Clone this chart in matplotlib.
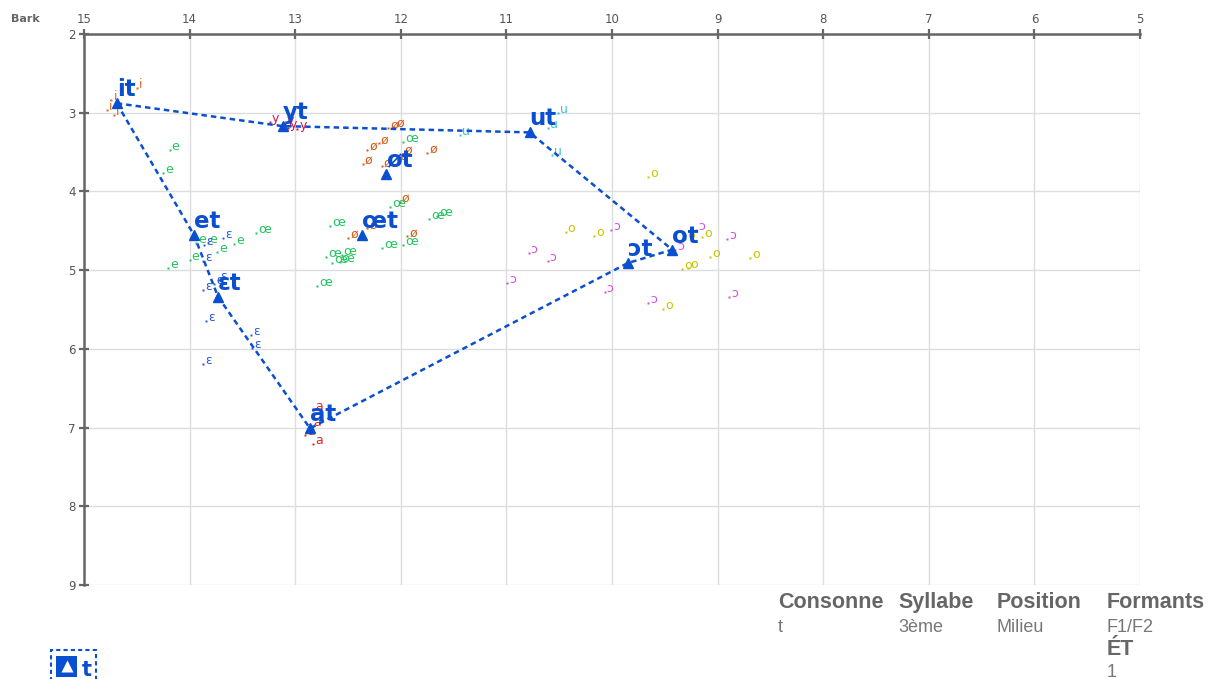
import matplotlib
matplotlib.use("Agg")
import matplotlib.pyplot as plt
from matplotlib.patches import Rectangle
from matplotlib.lines import Line2D

# ---- data (Bark: F2 on x, F1 on y) ----
token_symbols = ["i", "y", "e", "ɛ", "a", "ø", "œ", "u", "o", "ɔ"]
token_colors = ["#e06a24", "#d3144a", "#22c55e", "#2b5bd6", "#e2231f",
                "#d35a12", "#22c55e", "#3cc3cf", "#c9c300", "#d54fd8"]

i_f2 = [14.78, 14.74, 14.72, 14.50]
i_f1 = [2.97, 2.84, 3.03, 2.69]
y_f2 = [13.24, 13.10, 13.07, 12.98]
y_f1 = [3.12, 3.14, 3.19, 3.21]
e_f2 = [14.19, 14.25, 13.94, 13.83, 13.74, 13.58, 14.00, 14.20]
e_f1 = [3.47, 3.77, 4.66, 4.66, 4.77, 4.67, 4.87, 4.97]
eps_f2 = [13.86, 13.68, 13.87, 13.73, 13.77, 13.87, 13.84, 13.42, 13.41, 13.87]
eps_f1 = [4.68, 4.59, 4.88, 5.13, 5.18, 5.25, 5.65, 5.82, 5.99, 6.19]
a_f2 = [12.83, 12.91, 12.83, 12.85]
a_f1 = [6.78, 7.10, 7.21, 6.98]
oslash_f2 = [12.12, 12.06, 12.21, 12.32, 11.98, 12.03, 12.36, 12.18, 11.75,
             12.01, 12.50, 11.94, 12.32]
oslash_f1 = [3.20, 3.18, 3.39, 3.47, 3.52, 3.60, 3.65, 3.68, 3.51,
             4.13, 4.59, 4.57, 4.47]
oe_f2 = [11.98, 12.10, 11.73, 11.66, 12.18, 11.98, 12.67, 12.71, 12.56,
         12.65, 12.58, 12.79, 13.37]
oe_f1 = [3.37, 4.20, 4.35, 4.31, 4.72, 4.68, 4.44, 4.83, 4.81,
         4.91, 4.90, 5.20, 4.53]
u_f2 = [11.44, 10.51, 10.61, 10.57]
u_f1 = [3.28, 3.00, 3.19, 3.54]
o_f2 = [9.66, 10.44, 10.17, 9.31, 9.15, 9.07, 8.69, 9.34, 9.28, 9.52]
o_f1 = [3.82, 4.52, 4.57, 4.60, 4.58, 4.83, 4.85, 4.99, 4.97, 5.49]
openo_f2 = [10.01, 9.20, 8.91, 10.79, 10.61, 9.40, 10.99, 10.07, 9.66, 8.89]
openo_f1 = [4.49, 4.49, 4.60, 4.78, 4.88, 4.74, 5.16, 5.28, 5.42, 5.34]

token_f2 = [i_f2, y_f2, e_f2, eps_f2, a_f2, oslash_f2, oe_f2, u_f2, o_f2, openo_f2]
token_f1 = [i_f1, y_f1, e_f1, eps_f1, a_f1, oslash_f1, oe_f1, u_f1, o_f1, openo_f1]

mean_labels = ["it", "yt", "ut", "ot", "ɔt", "at", "ɛt", "et", "øt", "œt"]
mean_f2 = [14.69, 13.12, 10.78, 9.43, 9.85, 12.86, 13.73, 13.96, 12.14, 12.37]
mean_f1 = [2.88, 3.17, 3.25, 4.74, 4.91, 7.01, 5.34, 4.55, 3.78, 4.55]
# vowel-space outline: it -> yt -> ut -> ot -> ɔt -> at -> ɛt -> et -> it
outline_order = [0, 1, 2, 3, 4, 5, 6, 7, 0]

x_ticks = [15, 14, 13, 12, 11, 10, 9, 8, 7, 6, 5]
y_ticks = [2, 3, 4, 5, 6, 7, 8, 9]

table_headers = ["Consonne", "Syllabe", "Position", "Formants"]
table_values = ["t", "3ème", "Milieu", "F1/F2"]
extra_header = "ÉT"
extra_value = "1"
legend_label = "t"

BLUE = "#0a4fcf"
AXIS_GREY = "#666666"
W, H = 1208, 679


def fx(px):
    return px / W


def fy(py):
    return 1 - py / H


fig = plt.figure(figsize=(W / 100, H / 100), dpi=100)
ax = fig.add_axes([fx(84), fy(585), (1140 - 84) / W, (585 - 34) / H])

ax.set_xlim(15, 5)
ax.set_ylim(9, 2)
ax.xaxis.tick_top()
ax.set_xticks(x_ticks)
ax.set_yticks(y_ticks)
ax.grid(True, color="#dddddd", lw=1)
ax.set_axisbelow(True)
for side in ("bottom", "right"):
    ax.spines[side].set_visible(False)
for side in ("top", "left"):
    ax.spines[side].set_color(AXIS_GREY)
    ax.spines[side].set_linewidth(1.8)
ax.tick_params(axis="both", direction="inout", length=7, width=1.6,
               color=AXIS_GREY, labelcolor="#555555", labelsize=8.5, pad=2.5)

# individual tokens
for sym, col, xs, ys in zip(token_symbols, token_colors, token_f2, token_f1):
    ax.plot(xs, ys, "s", ms=1.7, color=col, mec="none", zorder=3)
    for xv, yv in zip(xs, ys):
        ax.annotate(sym, (xv, yv), xytext=(1.5, 0), textcoords="offset points",
                    fontsize=9, color=col, ha="left", va="baseline", zorder=3)

# outline joining the means
ax.plot([mean_f2[k] for k in outline_order], [mean_f1[k] for k in outline_order],
        color=BLUE, lw=1.8, ls=(0, (2.2, 1.6)), zorder=4)

# means
ax.plot(mean_f2, mean_f1, "^", ms=6.5, color=BLUE, zorder=5)
for lbl, xv, yv in zip(mean_labels, mean_f2, mean_f1):
    ax.annotate(lbl, (xv, yv), xytext=(0, 1.5), textcoords="offset points",
                fontsize=16.5, fontweight="bold", color=BLUE,
                ha="left", va="bottom", zorder=6)

fig.text(fx(25), fy(19), "Bark", fontsize=8, fontweight="bold", color=AXIS_GREY,
         ha="center", va="center")

# info table
col_x = [778, 898, 997, 1107]
for cx, hdr, val in zip(col_x, table_headers, table_values):
    fig.text(fx(cx), fy(608), hdr, fontsize=15.5, fontweight="bold",
             color="#666666", family="Liberation Sans", va="baseline")
    fig.text(fx(cx), fy(632), val, fontsize=13, color="#777777",
             family="Liberation Sans", va="baseline")
fig.text(fx(1107), fy(655), extra_header, fontsize=15.5, fontweight="bold",
         color="#666666", family="Liberation Sans", va="baseline")
fig.text(fx(1107), fy(677), extra_value, fontsize=13, color="#777777",
         family="Liberation Sans", va="baseline")

# legend
fig.add_artist(Rectangle((fx(51), fy(682)), (96 - 51) / W, (682 - 650) / H,
                         transform=fig.transFigure, fill=False, ec=BLUE, lw=1.5,
                         ls=(0, (2, 1.5))))
fig.add_artist(Rectangle((fx(56), fy(677)), 21 / W, 21 / H,
                         transform=fig.transFigure, fc=BLUE, ec="none"))
fig.add_artist(Line2D([fx(66.5)], [fy(666)], marker="^", ms=8, color="white",
                      mec="none", transform=fig.transFigure))
fig.text(fx(82), fy(676), legend_label, fontsize=15, fontweight="bold",
         color=BLUE, va="baseline")

fig.savefig("out.png", dpi=100)
